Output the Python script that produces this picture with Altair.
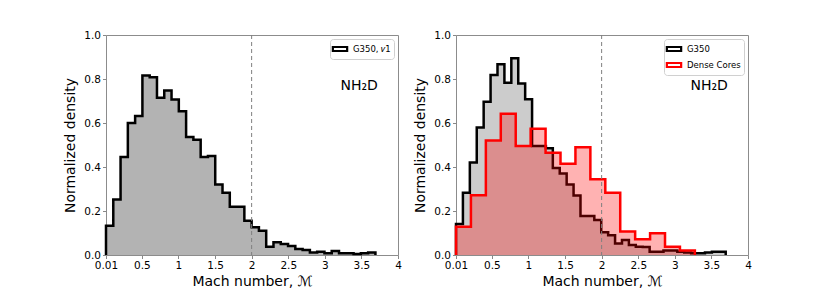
import altair as alt
import pandas as pd

# ---- data ----
left_start = 0.01
left_width = 0.0995
left_vals = [0.133, 0.252, 0.446, 0.600, 0.632, 0.816, 0.808, 0.715, 0.748, 0.707,
             0.653, 0.536, 0.524, 0.446, 0.450, 0.320, 0.283, 0.219, 0.219, 0.156,
             0.126, 0.110, 0.038, 0.058, 0.050, 0.041, 0.027, 0.023, 0.011, 0.015,
             0.008, 0.018, 0.008, 0.008, 0.005, 0.008, 0.011]

right_start = 0.01
right_width = 0.0945
right_vals = [0.141, 0.283, 0.420, 0.580, 0.697, 0.818, 0.867, 0.783, 0.894, 0.780,
              0.708, 0.495, 0.495, 0.485, 0.395, 0.370, 0.320, 0.270, 0.177, 0.177,
              0.159, 0.103, 0.090, 0.052, 0.068, 0.045, 0.038, 0.036, 0.015, 0.015,
              0.020, 0.020, 0.015, 0.011, 0.008, 0.008, 0.011, 0.015, 0.015]

core_start = 0.01
core_width = 0.204
core_vals = [0.128, 0.272, 0.520, 0.642, 0.495, 0.574, 0.465, 0.415, 0.490, 0.344,
             0.283, 0.107, 0.072, 0.099, 0.038, 0.021]

x_ticks = [0.01, 0.5, 1, 1.5, 2, 2.5, 3, 3.5, 4]
y_ticks = [0.0, 0.2, 0.4, 0.6, 0.8, 1.0]
x_domain = [0.01, 4]
y_domain = [0, 1]
threshold = [2.0]
species = ["NH₂D"]
species_x = [3.47]
species_y = [0.77]

left_names = ["G350, 𝑣1"]
right_names = ["G350", "Dense Cores"]

FONT = "DejaVu Sans"


def step_outline(vals, start, width, name):
    rows = [{"x": start, "y": 0.0, "i": 0, "s": name}]
    for k, v in enumerate(vals):
        rows.append({"x": start + k * width, "y": v, "i": k + 1, "s": name})
    end = start + len(vals) * width
    rows.append({"x": end, "y": vals[-1], "i": len(vals) + 1, "s": name})
    rows.append({"x": end, "y": 0.0, "i": len(vals) + 2, "s": name})
    return pd.DataFrame(rows)


def step_fill(vals, start, width, name):
    rows = []
    for k, v in enumerate(vals):
        rows.append({"x": start + k * width, "y": v, "s": name})
    rows.append({"x": start + len(vals) * width, "y": vals[-1], "s": name})
    return pd.DataFrame(rows)


xs = alt.Scale(domain=x_domain, nice=False, zero=False)
ys = alt.Scale(domain=y_domain, nice=False, zero=True)

x_axis = alt.Axis(values=x_ticks, format="~g", title="Mach number, ℳ", grid=False,
                  domain=False, labelFlush=False, labelOverlap=False, tickSize=3.5,
                  tickColor="#888", labelPadding=2, titlePadding=3)
y_axis = alt.Axis(values=y_ticks, format=".1f", title="Normalized density", grid=False,
                  domain=False, labelFlush=False, labelOverlap=False, tickSize=3.5,
                  tickColor="#888", labelPadding=2, titlePadding=6)

legend_kw = dict(title=None, orient="top-right", offset=4,
                 symbolType="M-1.3,-0.36H1.3V0.36H-1.3Z", symbolSize=121,
                 symbolStrokeWidth=2.2, symbolFillColor="white",
                 labelFontSize=8.5, labelFont=FONT, labelOffset=6,
                 padding=3, rowPadding=2, fillColor="white",
                 strokeColor="#d0d0d0", cornerRadius=3)


def fill_layer(df, color, opacity):
    return alt.Chart(df).mark_area(interpolate="step-after", color=color,
                                   fillOpacity=opacity, strokeWidth=0).encode(
        x=alt.X("x:Q", scale=xs, axis=x_axis),
        y=alt.Y("y:Q", scale=ys, axis=y_axis),
        y2=alt.datum(0),
    )


def line_layer(df, domain, rng):
    return alt.Chart(df).mark_line(interpolate="step-after", strokeWidth=2.5,
                                   strokeJoin="miter").encode(
        x=alt.X("x:Q", scale=xs, axis=x_axis),
        y=alt.Y("y:Q", scale=ys, axis=y_axis),
        order=alt.Order("i:Q"),
        color=alt.Color("s:N", scale=alt.Scale(domain=domain, range=rng),
                        legend=alt.Legend(**legend_kw)),
    )


rule_df = pd.DataFrame({"x": threshold})
txt_df = pd.DataFrame({"x": species_x, "y": species_y, "t": species})


def extras():
    rule = alt.Chart(rule_df).mark_rule(color="#7f7f7f", strokeWidth=1,
                                        strokeDash=[4, 3]).encode(
        x=alt.X("x:Q", scale=xs, axis=x_axis))
    txt = alt.Chart(txt_df).mark_text(fontSize=14, font=FONT, color="black",
                                      align="center", baseline="middle").encode(
        x=alt.X("x:Q", scale=xs, axis=x_axis),
        y=alt.Y("y:Q", scale=ys, axis=y_axis),
        text="t:N")
    return rule, txt


W, H = 292, 220

# left panel
lf = step_fill(left_vals, left_start, left_width, left_names[0])
lo = step_outline(left_vals, left_start, left_width, left_names[0])
r1, t1 = extras()
left = alt.layer(
    fill_layer(lf, "#b3b3b3", 1.0),
    line_layer(lo, left_names, ["black"]),
    r1, t1,
).properties(width=W, height=H)

# right panel
rf_b = step_fill(right_vals, right_start, right_width, right_names[0])
ro_b = step_outline(right_vals, right_start, right_width, right_names[0])
rf_r = step_fill(core_vals, core_start, core_width, right_names[1])
ro_r = step_outline(core_vals, core_start, core_width, right_names[1])
r2, t2 = extras()
right = alt.layer(
    fill_layer(rf_b, "#cccccc", 1.0),
    line_layer(ro_b, right_names, ["black", "red"]),
    fill_layer(rf_r, "red", 0.3),
    line_layer(ro_r, right_names, ["black", "red"]),
    r2, t2,
).properties(width=W, height=H)

chart = alt.hconcat(left, right, spacing=11).resolve_scale(
    color="independent").resolve_legend(color="independent").properties(
    padding={"left": 55, "top": 21, "right": 5, "bottom": 5}
).configure_view(stroke="#8c8c8c", strokeWidth=1).configure_axis(
    labelFont=FONT, titleFont=FONT, labelFontSize=10.5, titleFontSize=14,
    labelColor="black", titleColor="black", titleFontWeight="normal"
)

chart.save("out.html", embed_options={"renderer": "svg", "actions": False})
